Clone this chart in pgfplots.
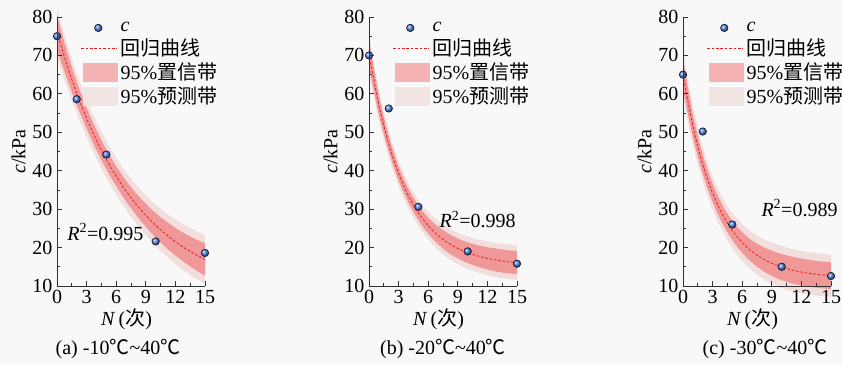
\documentclass[border=0pt]{standalone}
\usepackage{pgfplots}
\pgfplotsset{compat=1.18}
\usepackage{pgfplotstable}
\usepgfplotslibrary{fillbetween}
\usepackage{fontspec}
\setmainfont{Liberation Serif}
\newfontfamily\cjk{Noto Sans CJK SC}
\definecolor{bg}{RGB}{248,248,248}
\definecolor{lightband}{RGB}{242,216,216}
\definecolor{darkband}{RGB}{238,105,105}
\definecolor{darklegend}{RGB}{244,178,178}
\definecolor{lightlegend}{RGB}{243,228,228}
\definecolor{balls}{RGB}{80,128,228}
\definecolor{regred}{RGB}{228,30,30}
\pagecolor{bg}

\pgfplotstableread{
x y du dl lu ll
0 76.00 80.50 71.50 82.50 69.50
1 67.56 71.16 63.96 73.36 61.76
2 60.16 63.16 57.16 65.36 54.96
3 53.66 56.36 50.96 58.56 48.76
4 47.96 50.56 45.36 52.76 43.16
5 42.96 45.56 40.36 47.76 38.16
6 38.58 41.18 35.98 43.38 33.78
7 34.73 37.43 32.03 39.63 29.83
8 31.36 34.16 28.56 36.36 26.36
9 28.40 31.40 25.40 33.60 23.20
10 25.80 29.00 22.60 31.20 20.40
11 23.53 26.93 20.13 29.13 17.93
12 21.53 25.13 17.93 27.33 15.73
13 19.77 23.57 15.97 25.77 13.77
14 18.24 22.24 14.24 24.44 12.04
15 16.89 21.09 12.69 23.29 10.49
}\fitA
\pgfplotstableread{
x y
0 75.0
2 58.6
5 44.2
10 21.6
15 18.6
}\ptsA

\pgfplotstableread{
x y du dl lu ll
0 70.50 74.00 67.00 75.50 65.50
1 57.12 59.62 54.62 61.12 53.12
2 46.98 48.98 44.98 50.48 43.48
3 39.29 41.09 37.49 42.59 35.99
4 33.46 35.26 31.66 36.76 30.16
5 29.04 30.94 27.14 32.44 25.64
6 25.69 27.79 23.59 29.29 22.09
7 23.16 25.46 20.86 26.96 19.36
8 21.23 23.73 18.73 25.23 17.23
9 19.77 22.37 17.17 23.87 15.67
10 18.67 21.37 15.97 22.87 14.47
11 17.83 20.63 15.03 22.13 13.53
12 17.19 20.09 14.29 21.59 12.79
13 16.71 19.71 13.71 21.21 12.21
14 16.34 19.34 13.34 20.84 11.84
15 16.07 19.07 13.07 20.57 11.57
}\fitB
\pgfplotstableread{
x y
0 70.0
2 56.2
5 30.6
10 19.0
15 15.8
}\ptsB

\pgfplotstableread{
x y du dl lu ll
0 65.00 69.00 61.00 71.00 59.00
1 51.66 54.66 48.66 56.66 46.66
2 41.67 44.17 39.17 46.17 37.17
3 34.20 36.60 31.80 38.60 29.80
4 28.61 31.01 26.21 33.01 24.21
5 24.43 26.93 21.93 29.03 19.83
6 21.30 24.00 18.60 26.10 16.50
7 18.96 21.86 16.06 23.96 13.96
8 17.21 20.31 14.11 22.41 12.01
9 15.90 19.20 12.60 21.30 10.50
10 14.92 18.32 11.52 20.42 9.42
11 14.18 17.68 10.68 19.68 8.68
12 13.63 17.13 10.13 19.13 8.13
13 13.22 16.72 9.72 18.72 7.72
14 12.91 16.41 9.41 18.41 7.41
15 12.68 16.18 9.18 18.18 7.18
}\fitC
\pgfplotstableread{
x y
0 65.0
2 50.2
5 26.0
10 15.0
15 12.6
}\ptsC

\newcommand{\bigf}{\fontsize{20}{24}\selectfont}

\pgfplotsset{
  panel/.style={
    scale only axis, width=148pt, height=269pt,
    anchor=south west,
    xmin=0, xmax=15, ymin=10, ymax=80,
    axis x line*=bottom, axis y line*=left,
    axis line style={line width=0.8pt, black!80, -},
    xtick={0,3,...,15}, ytick={10,20,...,80},
    minor x tick num=1, minor y tick num=1,
    tick align=inside, major tick length=5pt, minor tick length=3pt,
    every tick/.style={black!80, line width=0.8pt},
    clip=false, axis on top,
    /pgf/number format/assume math mode=true,
    tick label style={font=\bigf},
    xticklabel style={yshift=-1pt},
    yticklabel style={xshift=-1pt},
    label style={font=\bigf},
    xlabel={\textit{N}\,({\cjk 次})},
    ylabel={\textit{c}/kPa},
    xlabel style={at={(axis description cs:0.47,-0.123)}, anchor=center},
    ylabel style={at={(axis description cs:-0.26,0.5)}, anchor=center},
    legend style={draw=none, fill=none, at={(0.16,0.985)}, anchor=north west,
      font=\bigf, inner sep=0pt, row sep=3.3pt,
      nodes={inner ysep=1.2pt, inner xsep=3pt}},
    legend cell align=left,
  },
  ptsstyle/.style={only marks, mark=ball, mark size=3.8pt, mark options={ball color=balls}},
  darkfill/.style={fill=darkband, fill opacity=0.6, draw=none},
  lightfill/.style={fill=lightband, fill opacity=0.8, draw=none},
  curvestyle/.style={draw=regred, line width=0.8pt, dash pattern=on 2.6pt off 1.8pt, smooth},
}

\newcommand{\legendstuff}{%
  \addlegendimage{legend image code/.code={\shade[ball color=balls] (17pt,0pt) circle (3.8pt);}}
  \addlegendentry{\textit{c}}
  \addlegendimage{legend image code/.code={\draw[draw=regred, solid, line width=0.8pt, dash pattern=on 2.6pt off 1.8pt] (0pt,0pt) -- (36pt,0pt);}}
  \addlegendentry{{\cjk 回归曲线}}
  \addlegendimage{legend image code/.code={\fill[darklegend] (2pt,-8.5pt) rectangle (36pt,9pt);}}
  \addlegendentry{95\%{\cjk 置信带}}
  \addlegendimage{legend image code/.code={\fill[lightlegend] (2pt,-8.5pt) rectangle (36pt,9pt);}}
  \addlegendentry{95\%{\cjk 预测带}}
}

\newcommand{\panelplots}[2]{%
  \addplot[ptsstyle, forget plot] table[x=x,y=y]{#2};
  \addplot[draw=none, smooth, name path=LU, forget plot] table[x=x,y=lu]{#1};
  \addplot[draw=none, smooth, name path=LL, forget plot] table[x=x,y=ll]{#1};
  \addplot[lightfill, forget plot] fill between[of=LU and LL, on layer=main];
  \addplot[draw=none, smooth, name path=DU, forget plot] table[x=x,y=du]{#1};
  \addplot[draw=none, smooth, name path=DL, forget plot] table[x=x,y=dl]{#1};
  \addplot[darkfill, forget plot] fill between[of=DU and DL, on layer=main];
  \addplot[curvestyle, forget plot] table[x=x,y=y]{#1};
}

\begin{document}
\begin{tikzpicture}
\path (0pt,0pt) rectangle (842pt,365pt);

\begin{axis}[panel, at={(57pt,79pt)}]
\legendstuff
\panelplots{\fitA}{\ptsA}
\node[anchor=west, font=\bigf] at (axis cs:0.7,24) {\textit{R}\textsuperscript{2}=0.995};
\end{axis}

\begin{axis}[panel, at={(369pt,79pt)}]
\legendstuff
\panelplots{\fitB}{\ptsB}
\node[anchor=west, font=\bigf] at (axis cs:6.8,27.3) {\textit{R}\textsuperscript{2}=0.998};
\end{axis}

\begin{axis}[panel, at={(683pt,79pt)}]
\legendstuff
\panelplots{\fitC}{\ptsC}
\node[anchor=west, font=\bigf] at (axis cs:7.6,30.3) {\textit{R}\textsuperscript{2}=0.989};
\end{axis}

\node[font=\bigf] at (118pt,16pt) {(a) -10{\cjk ℃}\textasciitilde 40{\cjk ℃}};
\node[font=\bigf] at (443pt,16pt) {(b) -20{\cjk ℃}\textasciitilde 40{\cjk ℃}};
\node[font=\bigf] at (765pt,16pt) {(c) -30{\cjk ℃}\textasciitilde 40{\cjk ℃}};
\pgfresetboundingbox
\useasboundingbox (0pt,0pt) rectangle (842pt,365pt);
\end{tikzpicture}
\end{document}
